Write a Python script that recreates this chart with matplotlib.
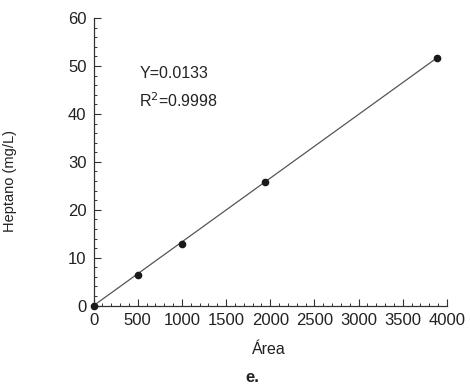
import matplotlib
matplotlib.use("Agg")
import matplotlib.pyplot as plt
import numpy as np
from matplotlib.ticker import MultipleLocator

plt.rcParams['font.family'] = ['Liberation Sans', 'DejaVu Sans']

# calibration points
area = [0, 508, 1005, 1940, 3890]
heptano = [0, 6.5, 12.9, 25.8, 51.7]
slope = 0.0133
fit_x = [0, 3890]

fig = plt.figure(figsize=(4.7, 3.84), dpi=100)
ax = fig.add_axes([0.199, 0.204, 0.752, 0.749])

ax.plot(fit_x, [slope * v for v in fit_x], color="#555555", lw=0.9, zorder=2)
ax.plot(area, heptano, "o", color="#1a1a1a", ms=4.5, zorder=3, clip_on=False)

ax.set_xlim(0, 4000)
ax.set_ylim(0, 60)
ax.xaxis.set_major_locator(MultipleLocator(500))
ax.xaxis.set_minor_locator(MultipleLocator(100))
ax.yaxis.set_major_locator(MultipleLocator(10))
ax.yaxis.set_minor_locator(MultipleLocator(2))

for s in ["top", "right"]:
    ax.spines[s].set_visible(False)
for s in ["left", "bottom"]:
    ax.spines[s].set_color("#333333")
    ax.spines[s].set_linewidth(0.9)

ax.tick_params(which="major", direction="in", length=5, width=0.8, color="#333333",
               labelsize=12, labelcolor="#222222", pad=5)
ax.tick_params(which="minor", direction="in", length=2.5, width=0.7, color="#333333")

ax.set_xlabel("Área", fontsize=11.5, color="#222222")
ax.set_ylabel("Heptano (mg/L)", fontsize=10.5, color="#222222")
ax.xaxis.set_label_coords(0.497, -0.125)
ax.yaxis.set_label_coords(-0.217, 0.432)

ax.text(0.13, 0.79, "Y=0.0133", transform=ax.transAxes, fontsize=11.5, color="#222222")
ax.text(0.13, 0.69, "R$^2$=0.9998", transform=ax.transAxes, fontsize=11.5, color="#222222")

fig.text(0.536, 0.006, "e.", fontsize=12, fontweight="bold", ha="center",
         va="baseline", color="#222222")

fig.savefig("out.png", dpi=100)
